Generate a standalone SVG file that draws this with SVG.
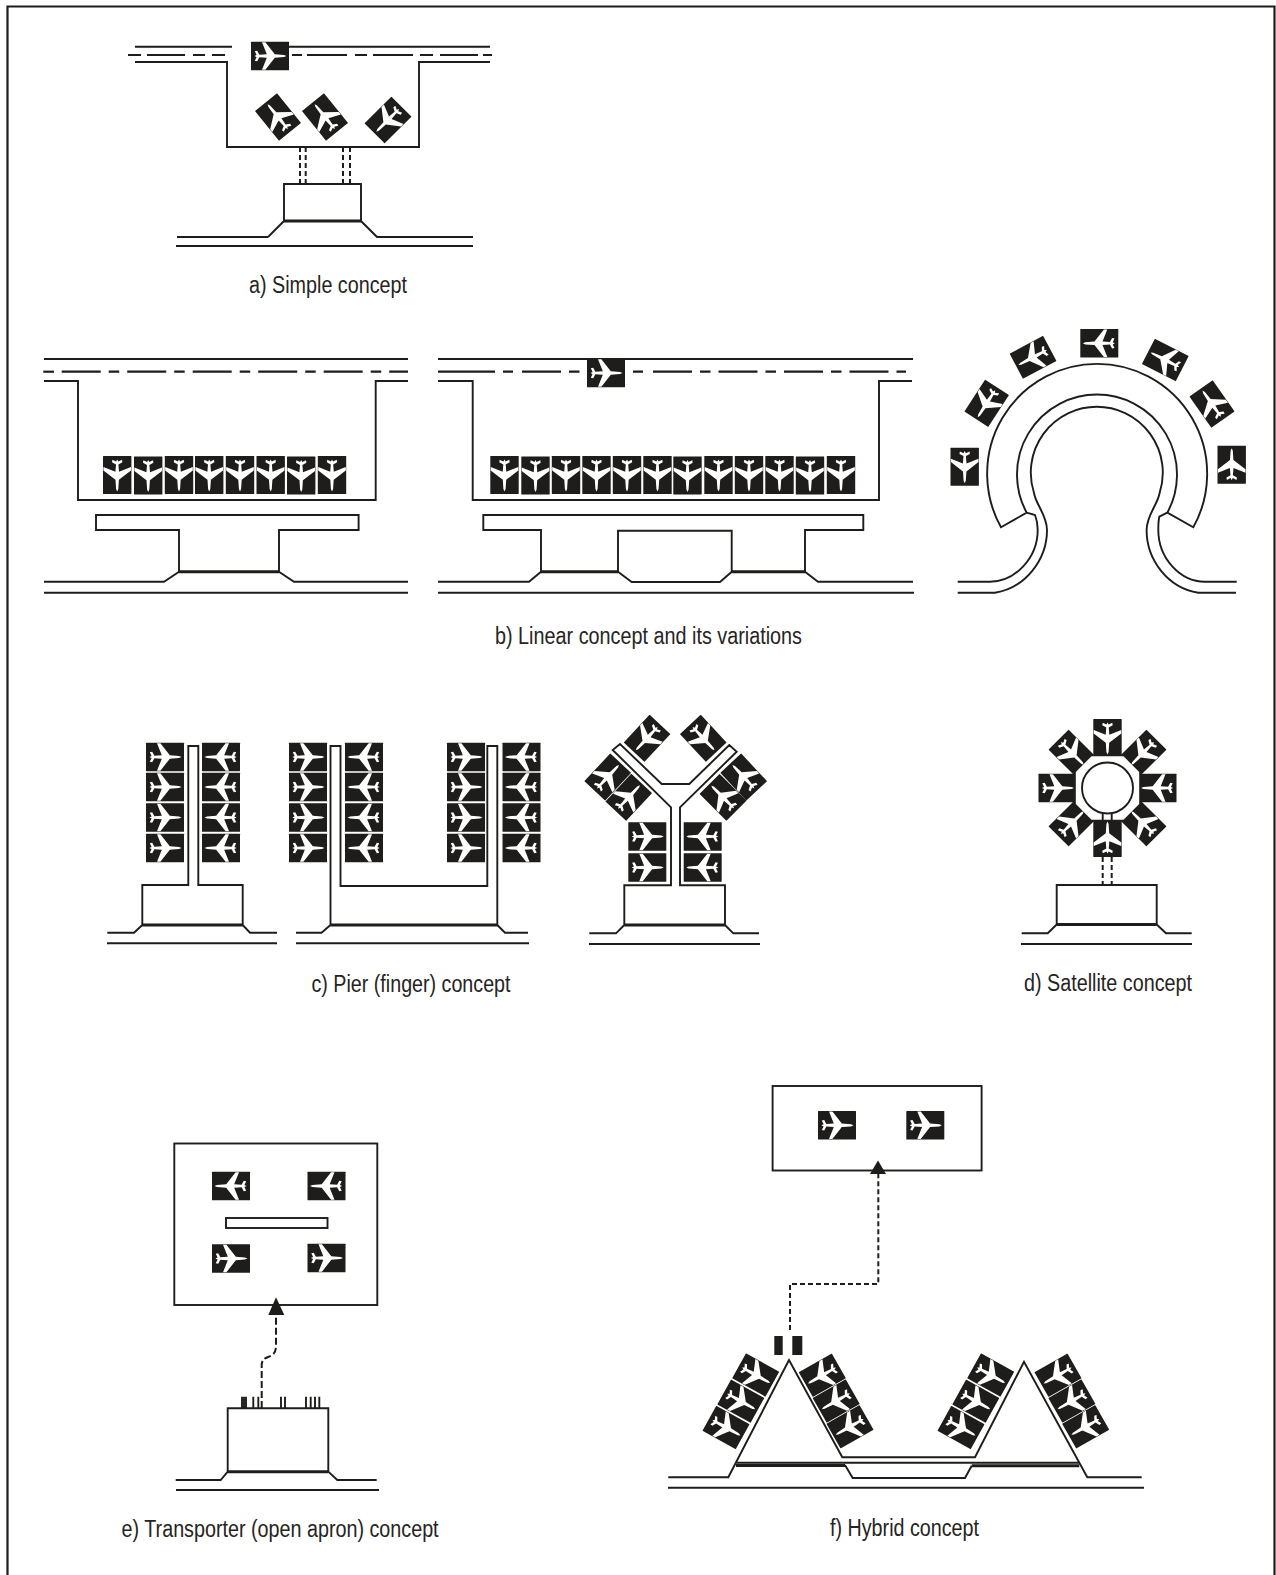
<svg xmlns="http://www.w3.org/2000/svg" width="1276" height="1575" viewBox="0 0 1276 1575">
<style>
.l{fill:none;stroke:#1f1d1b;stroke-width:1.9;stroke-linejoin:miter}
.w{fill:#fff;stroke:#1f1d1b;stroke-width:1.9}
.k{fill:none;stroke:#1f1d1b;stroke-width:3}
.cs{fill:none;stroke:#1f1d1b;stroke-width:2.2}
.cl{fill:none;stroke:#1f1d1b;stroke-width:2.2;stroke-dasharray:39 8 10.5 8}
.d{fill:none;stroke:#1f1d1b;stroke-width:2;stroke-dasharray:5 3}
.a{fill:#1f1d1b}
.t{font-family:"Liberation Sans",Arial,sans-serif;font-size:23px;fill:#262422}
</style>
<defs>
<g id="p">
<rect x="-19" y="-14.2" width="38" height="28.4" rx="0.5" fill="#1f1d1b"/>
<path fill="#fff" d="M16.5,0L14,-1.1L4.8,-1.7L-4.6,-13.8L-8,-13.8L-3.2,-1.8L-10.6,-1.2L-12.8,-5.2L-15.2,-4.8L-13.4,-1.1L-15.6,0L-13.4,1.1L-15.2,4.8L-12.8,5.2L-10.6,1.2L-3.2,1.8L-8,13.8L-4.6,13.8L4.8,1.7L14,1.1Z"/>
</g>
</defs>
<rect width="1276" height="1575" fill="#fff"/>
<path id="frame" class="l" style="stroke-width:2.2" d="M7.5,1575V6.5H1274.5V1575"/>

<g id="simple-concept">
<path class="l" d="M135,46.7H232M289,46.7H490M135,62H227V147H419V62H490"/>
<path class="cs" d="M128,55H141M147,55H185M193,55H205M212,55H225M292,55H302M307,55H347M355,55H367M373,55H413M420,55H433M440,55H478M483,55H492"/>
<path class="d" d="M300,147V184M305.7,147V184M343,147V184M350,147V184"/>
<path class="l" d="M268,237L284,221V184H361V221L377,237H473M177,237H268M176,246H473"/>
<path class="k" d="M284,221H361"/>
<use href="#p" transform="translate(270,56)"/>
<use href="#p" transform="translate(278,117) rotate(231)"/>
<use href="#p" transform="translate(325,117) rotate(231)"/>
<use href="#p" transform="translate(388,120) rotate(135)"/>
</g>

<g id="linear-concept-1">
<path class="l" d="M44,359H408M44,381H78V500H375.7V381H408"/>
<path class="cs" d="M43.3,371.7H54"/>
<path class="cl" d="M61.7,371.7H408"/>
<path class="l" d="M44,581.7H164L179,571.7V530H96V515H358.6V530H279V571.7L294,581.7H408M44,592.7H408"/>
<path class="k" d="M179,571.7H279"/>
<use href="#p" transform="translate(117.2,475) rotate(90)"/>
<use href="#p" transform="translate(148.2,475.5) rotate(90)"/>
<use href="#p" transform="translate(179,475) rotate(90)"/>
<use href="#p" transform="translate(209.2,475) rotate(90)"/>
<use href="#p" transform="translate(240,475) rotate(90)"/>
<use href="#p" transform="translate(270.7,475) rotate(90)"/>
<use href="#p" transform="translate(301.2,475.5) rotate(90)"/>
<use href="#p" transform="translate(332,475) rotate(90)"/>
</g>

<g id="linear-concept-2">
<path class="l" d="M438,359H913M438,381H472.7V500H879V381H912"/>
<path class="cs" d="M438,371.7H495M503,371.7H513M633,371.7H643"/>
<path class="cl" d="M522,371.7H587M653,371.7H906"/>
<path class="l" d="M438,581.7H529L541,571.7V530H483.3V515H863.3V530H805V571.7L818,581.7H913M438,592.7H914M618,571.7V530.7H731.7V571.7L720,582H631.7L618,571.7"/>
<path class="k" d="M541,571.7H618M731.7,571.7H805"/>
<use href="#p" transform="translate(504.5,475) rotate(90)"/>
<use href="#p" transform="translate(535.5,475.5) rotate(90)"/>
<use href="#p" transform="translate(566,475) rotate(90)"/>
<use href="#p" transform="translate(596.5,475) rotate(90)"/>
<use href="#p" transform="translate(627,475) rotate(90)"/>
<use href="#p" transform="translate(657.5,475) rotate(90)"/>
<use href="#p" transform="translate(687.5,475.5) rotate(90)"/>
<use href="#p" transform="translate(718.5,475) rotate(90)"/>
<use href="#p" transform="translate(749,475) rotate(90)"/>
<use href="#p" transform="translate(779.5,475) rotate(90)"/>
<use href="#p" transform="translate(810,475.5) rotate(90)"/>
<use href="#p" transform="translate(841,475) rotate(90)"/>
<use href="#p" transform="translate(606,373)"/>
</g>

<g id="linear-concept-3">
<path class="l" d="M1001,527.3A110,110 0 1 1 1193.3,527.3L1167.3,512.7A80,80 0 1 0 1026.7,512.7ZM1026.7,512.7L1035,515C1037,520 1037.7,525 1037.7,530C1037.7,558 1015,581.7 990,581.7H957.7M957.7,592.7H995C1025,588 1047,560 1047,530C1047,515 1036,505 1034,493A66,66 0 1 1 1159.6,493C1157.6,505 1146.6,515 1146.6,530C1146.6,560 1168,588 1198.3,592.7H1236M1167.3,512.7L1159.3,516.7C1158.5,520 1158.3,525 1158.3,530C1158.3,558 1180,581.7 1205,581.7H1236.7"/>
<use href="#p" transform="translate(964.7,466.7) rotate(90)"/>
<use href="#p" transform="translate(986.7,403.3) rotate(123)"/>
<use href="#p" transform="translate(1033,357.3) rotate(152)"/>
<use href="#p" transform="translate(1099.3,343.3) rotate(180)"/>
<use href="#p" transform="translate(1165.3,360) rotate(207)"/>
<use href="#p" transform="translate(1212,404) rotate(235)"/>
<use href="#p" transform="translate(1231.7,464.7) rotate(270)"/>
</g>

<g id="pier-concept-1">
<path class="l" d="M107.3,932.7H134L142.3,925V885H188.3V746H198.3V885H242.7V925L250,932.7H277M107,943.3H277"/>
<path class="k" d="M142.3,925H242.7"/>
<use href="#p" transform="translate(165,757)"/>
<use href="#p" transform="translate(165,787)"/>
<use href="#p" transform="translate(165,817.5)"/>
<use href="#p" transform="translate(165,848)"/>
<use href="#p" transform="translate(221,757) rotate(180)"/>
<use href="#p" transform="translate(221,787) rotate(180)"/>
<use href="#p" transform="translate(221,817.5) rotate(180)"/>
<use href="#p" transform="translate(221,848) rotate(180)"/>
</g>

<g id="pier-concept-2">
<path class="l" d="M296,932.7H321.5L330.5,925V746H340.5V886H487.3V746H497.3V925L505,932.7H528M296,943.3H529"/>
<path class="k" d="M330.5,925H497.3"/>
<use href="#p" transform="translate(308,757)"/>
<use href="#p" transform="translate(308,787)"/>
<use href="#p" transform="translate(308,817.5)"/>
<use href="#p" transform="translate(308,848)"/>
<use href="#p" transform="translate(364,757) rotate(180)"/>
<use href="#p" transform="translate(364,787) rotate(180)"/>
<use href="#p" transform="translate(364,817.5) rotate(180)"/>
<use href="#p" transform="translate(364,848) rotate(180)"/>
<use href="#p" transform="translate(466,757)"/>
<use href="#p" transform="translate(466,787)"/>
<use href="#p" transform="translate(466,817.5)"/>
<use href="#p" transform="translate(466,848)"/>
<use href="#p" transform="translate(521.5,757) rotate(180)"/>
<use href="#p" transform="translate(521.5,787) rotate(180)"/>
<use href="#p" transform="translate(521.5,817.5) rotate(180)"/>
<use href="#p" transform="translate(521.5,848) rotate(180)"/>
</g>

<g id="pier-concept-3">
<path class="l" d="M589.3,933.3H616L624.3,925V885.3H671V807.3L612.7,750L620,744L661.7,784H689.3L729.3,745L736.7,751.7L680,807.3V885.3H725V925L733.3,933.3H759M589,944H760"/>
<path class="k" d="M624.3,925H725"/>
<use href="#p" transform="translate(647.3,836.5)"/>
<use href="#p" transform="translate(647.3,867.5)"/>
<use href="#p" transform="translate(702.7,836.5) rotate(180)"/>
<use href="#p" transform="translate(702.7,867.5) rotate(180)"/>
<use href="#p" transform="translate(647,738.3) rotate(133)"/>
<use href="#p" transform="translate(703.3,738.3) rotate(47)"/>
<use href="#p" transform="translate(607.7,777) rotate(-47)"/>
<use href="#p" transform="translate(628.7,797.3) rotate(-47)"/>
<use href="#p" transform="translate(743.7,777) rotate(227)"/>
<use href="#p" transform="translate(723,797.3) rotate(225)"/>
</g>

<g id="satellite-concept">
<use href="#p" transform="translate(1107.5,738) rotate(90)"/>
<use href="#p" transform="translate(1143,753) rotate(135)"/>
<use href="#p" transform="translate(1157.5,788) rotate(180)"/>
<use href="#p" transform="translate(1143,823) rotate(225)"/>
<use href="#p" transform="translate(1107.5,838) rotate(270)"/>
<use href="#p" transform="translate(1072,823) rotate(315)"/>
<use href="#p" transform="translate(1057.5,788)"/>
<use href="#p" transform="translate(1072,753) rotate(45)"/>
<path fill="#fff" d="M1091.5,756.3H1123.5L1139.2,772V804L1123.5,819.7H1091.5L1075.8,804V772Z"/>
<circle cx="1107.5" cy="788" r="25.5" class="w"/>
<path class="l" d="M1102.7,813.5V820M1111.7,813.5V820"/>
<path class="d" d="M1102.7,857V885M1111.7,857V885"/>
<path class="l" d="M1021.7,933.3H1047.7L1056.7,924.5V885H1156.7V924.5L1166,933.3H1191.7M1021,944H1192"/>
<path class="k" d="M1056.7,924.5H1156.7"/>
</g>

<g id="transporter-concept">
<rect x="174.3" y="1143.5" width="203" height="161.5" class="l"/>
<rect x="226" y="1218" width="101.5" height="10" class="l"/>
<use href="#p" transform="translate(231,1186) rotate(180)"/>
<use href="#p" transform="translate(326.5,1186) rotate(180)"/>
<use href="#p" transform="translate(231,1258.5)"/>
<use href="#p" transform="translate(326.5,1258)"/>
<path class="l" d="M242,1396.7V1408M244,1396.7V1408M246,1396.7V1408M253.3,1396.7V1408M258.3,1396.7V1408M281,1396.7V1408M285,1396.7V1408M306,1396.7V1408M310.7,1396.7V1408M315,1396.7V1408M319.3,1396.7V1408"/>
<path class="l" d="M175.7,1480H220.7L227.7,1471.7V1408.3H328.3V1471.7L337.3,1480H376.7M176,1490H379"/>
<path class="k" d="M227.7,1471.7H328.3"/>
</g>

<g id="hybrid-concept">
<rect x="772.6" y="1086" width="209" height="84.5" class="l"/>
<use href="#p" transform="translate(837,1125.3)"/>
<use href="#p" transform="translate(925.3,1125.3)"/>
<rect x="774.3" y="1336" width="8.4" height="19" class="a"/>
<rect x="792.3" y="1336" width="10" height="19" class="a"/>
<path class="l" d="M668.3,1477.3H728.3L789,1360L842.3,1457.3H975L1024,1361.7L1087.3,1477.3H1141.7M668,1487.7H1144M736.7,1462.7H1079.3M845,1465L852.7,1478H965L971.7,1465.7"/>
<path class="k" d="M736,1465.5H845M971.7,1465.7H1079.3"/>
<use href="#p" transform="translate(755.7,1375) rotate(29)"/>
<use href="#p" transform="translate(740.8,1401.2) rotate(29)"/>
<use href="#p" transform="translate(726,1427.5) rotate(29)"/>
<use href="#p" transform="translate(822.3,1375.3) rotate(150.4)"/>
<use href="#p" transform="translate(836.2,1401) rotate(150.4)"/>
<use href="#p" transform="translate(850,1426.7) rotate(150.4)"/>
<use href="#p" transform="translate(990.7,1375) rotate(29)"/>
<use href="#p" transform="translate(975.8,1401.2) rotate(29)"/>
<use href="#p" transform="translate(961,1427.5) rotate(29)"/>
<use href="#p" transform="translate(1058,1375.3) rotate(150.4)"/>
<use href="#p" transform="translate(1071.9,1401) rotate(150.4)"/>
<use href="#p" transform="translate(1085.7,1426.7) rotate(150.4)"/>
</g>

<g id="connectors">
<path class="d" style="stroke-dasharray:7 3" d="M261.7,1408V1365C262,1357 268,1358 272,1355C275,1353 276,1351 276,1345V1315"/>
<path class="a" d="M276,1297.3L284.3,1315H268.3Z"/>
<path class="d" d="M790,1330V1284H878.3V1172"/>
<path class="a" d="M878,1160.4L886,1174H870Z"/>
</g>

<g id="labels">
<text class="t" x="249" y="293.3" textLength="158" lengthAdjust="spacingAndGlyphs">a) Simple concept</text>
<text class="t" x="495" y="644" textLength="307" lengthAdjust="spacingAndGlyphs">b) Linear concept and its variations</text>
<text class="t" x="311.5" y="992" textLength="199" lengthAdjust="spacingAndGlyphs">c) Pier (finger) concept</text>
<text class="t" x="1024" y="991" textLength="168" lengthAdjust="spacingAndGlyphs">d) Satellite concept</text>
<text class="t" x="121.6" y="1536.7" textLength="317" lengthAdjust="spacingAndGlyphs">e) Transporter (open apron) concept</text>
<text class="t" x="830" y="1535.7" textLength="149" lengthAdjust="spacingAndGlyphs">f) Hybrid concept</text>
</g>
</svg>
